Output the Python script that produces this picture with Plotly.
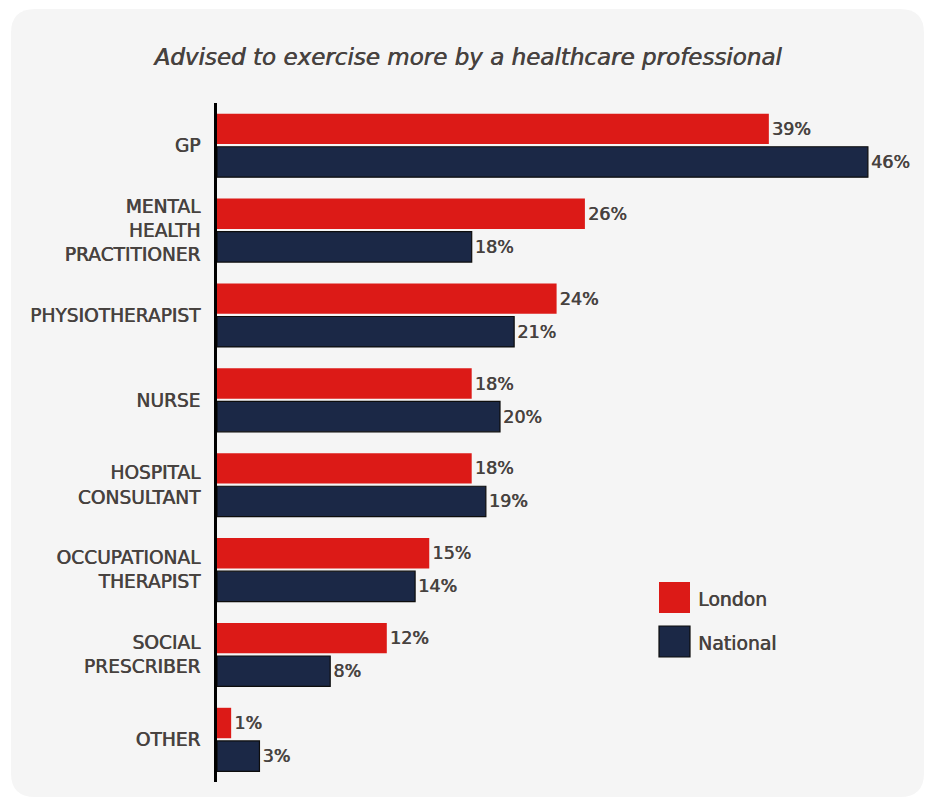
import plotly.graph_objects as go

# Survey results: share advised to exercise more, by type of healthcare professional
categories = [
    "GP",
    "MENTAL<br>HEALTH<br>PRACTITIONER",
    "PHYSIOTHERAPIST",
    "NURSE",
    "HOSPITAL<br>CONSULTANT",
    "OCCUPATIONAL<br>THERAPIST",
    "SOCIAL<br>PRESCRIBER",
    "OTHER",
]
london = [39, 26, 24, 18, 18, 15, 12, 1]
national = [46, 18, 21, 20, 19, 14, 8, 3]

RED = "#dc1a17"
NAVY = "#1b2846"
TEXT = "#47423f"
CARD = "#f5f5f5"
FONT = "DejaVu Sans"
# a faint offset copy of the glyphs gives a medium weight between regular and bold
HEAVY = f"0.6px 0px 0px {TEXT}"

W, H = 928, 800
ML, MR, MT, MB = 217, 18, 103, 18
PW, PH = W - ML - MR, H - MT - MB


def px(x):
    return (x - ML) / PW


def py(y):
    return (H - MB - y) / PH


value_font = dict(family=FONT, size=17.5, color=TEXT, shadow=HEAVY)

fig = go.Figure()
fig.add_trace(go.Bar(
    y=categories, x=london, orientation="h", name="London",
    marker=dict(color=RED, line=dict(width=0)),
    text=[f"{v}%" for v in london], textposition="outside",
    textfont=value_font, cliponaxis=False,
))
fig.add_trace(go.Bar(
    y=categories, x=national, orientation="h", name="National",
    marker=dict(color=NAVY, line=dict(width=1.2, color="#0d0d0d")),
    text=[f"{v}%" for v in national], textposition="outside",
    textfont=value_font, cliponaxis=False,
))

# rounded card behind the chart
x0, x1, y0, y1, r = px(11), px(924), py(9), py(797), 24
rx, ry = r / PW, r / PH
card_path = (
    f"M {x0 + rx} {y0} L {x1 - rx} {y0} Q {x1} {y0} {x1} {y0 - ry} "
    f"L {x1} {y1 + ry} Q {x1} {y1} {x1 - rx} {y1} "
    f"L {x0 + rx} {y1} Q {x0} {y1} {x0} {y1 + ry} "
    f"L {x0} {y0 - ry} Q {x0} {y0} {x0 + rx} {y0} Z"
)
shapes = [dict(type="path", path=card_path, xref="paper", yref="paper",
               fillcolor=CARD, line=dict(width=0), layer="below")]

# legend swatches
annotations = []
for name, color, top, border in [("London", RED, 582, 0), ("National", NAVY, 626, 1.2)]:
    shapes.append(dict(type="rect", xref="paper", yref="paper",
                       x0=px(659), x1=px(690), y0=py(top + 31), y1=py(top),
                       fillcolor=color,
                       line=dict(width=border, color="#0d0d0d")))
    annotations.append(dict(text=name, xref="paper", yref="paper",
                            x=px(696), y=py(top + 17), xanchor="left",
                            yanchor="middle", showarrow=False,
                            font=dict(family=FONT, size=18.8, color=TEXT, shadow=HEAVY)))

fig.update_layout(
    width=W, height=H,
    margin=dict(l=ML, r=MR, t=MT, b=MB),
    paper_bgcolor="white", plot_bgcolor="rgba(0,0,0,0)",
    barmode="group", bargap=0.22, bargroupgap=0.08,
    showlegend=False,
    title=dict(text="Advised to exercise more by a healthcare professional",
               x=468 / W, xanchor="center", y=1 - 57 / H, yanchor="middle",
               font=dict(family=FONT, size=23, color=TEXT, style="italic",
                         shadow=HEAVY)),
    xaxis=dict(range=[0, PW / 14.15], visible=False, fixedrange=True),
    yaxis=dict(autorange="reversed", showline=True, linecolor="black",
               linewidth=3, showgrid=False, zeroline=False, ticks="",
               ticklabelstandoff=10,
               tickfont=dict(family=FONT, size=18.6, color=TEXT, shadow=HEAVY)),
    shapes=shapes, annotations=annotations,
    uniformtext=dict(mode=False),
)

fig.write_html("out.html")
